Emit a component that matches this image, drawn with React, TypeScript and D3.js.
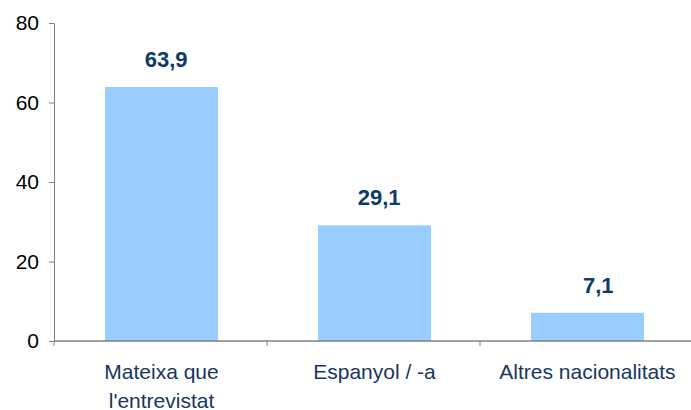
import { useEffect, useRef } from "react"
import * as d3 from "d3"

const categories = ["Mateixa que l'entrevistat", "Espanyol / -a", "Altres nacionalitats"]
const categoryLines = [["Mateixa que", "l'entrevistat"], ["Espanyol / -a"], ["Altres nacionalitats"]]
const values = [63.9, 29.1, 7.1]
const valueLabels = ["63,9", "29,1", "7,1"]
const yTicks = [0, 20, 40, 60, 80]

export default function App() {
  const svgRef = useRef<SVGSVGElement>(null)
  const width = 691
  const height = 410

  useEffect(() => {
    const svg = d3.select(svgRef.current)
    svg.selectAll("*").remove()

    const left = 54
    const right = 693
    const top = 23
    const bottom = 341
    const font = "'Liberation Sans', Arial, sans-serif"

    const x = d3.scaleBand<string>().domain(categories).range([left, right]).padding(0)
    const y = d3.scaleLinear().domain([0, 80]).range([bottom, top])
    const barW = x.bandwidth() * 0.53

    // bars
    svg.selectAll(".bar")
      .data(values)
      .enter()
      .append("rect")
      .attr("x", (_, i) => x(categories[i])! + (x.bandwidth() - barW) / 2 + 1)
      .attr("y", (d) => y(d))
      .attr("width", barW)
      .attr("height", (d) => bottom - y(d))
      .attr("fill", "#99ccff")

    // y axis
    const yAxis = svg.append("g")
      .attr("transform", `translate(${left},0)`)
      .call(d3.axisLeft(y).tickValues(yTicks).tickSize(5).tickSizeOuter(0).tickPadding(10))
    yAxis.select(".domain").attr("stroke", "#808080")
    yAxis.selectAll(".tick line").attr("stroke", "#808080")
    yAxis.selectAll(".tick text")
      .attr("fill", "#000")
      .style("font-family", font)
      .style("font-size", "21px")

    // x axis line + ticks at band boundaries
    svg.append("line")
      .attr("x1", left).attr("x2", right)
      .attr("y1", bottom).attr("y2", bottom)
      .attr("stroke", "#808080").attr("stroke-width", 1.5)
    const bounds = categories.map((c) => x(c)!).concat([right])
    svg.selectAll(".xtick")
      .data(bounds)
      .enter()
      .append("line")
      .attr("x1", (d) => d).attr("x2", (d) => d)
      .attr("y1", bottom).attr("y2", bottom + 5)
      .attr("stroke", "#808080")

    // x labels
    categoryLines.forEach((lines, i) => {
      const cx = x(categories[i])! + x.bandwidth() / 2 + 1
      const t = svg.append("text")
        .attr("x", cx)
        .attr("y", 379)
        .attr("text-anchor", "middle")
        .attr("fill", "#17375e")
        .style("font-family", font)
        .style("font-size", "21px")
      lines.forEach((l, j) => {
        t.append("tspan").attr("x", cx).attr("dy", j === 0 ? 0 : 29).text(l)
      })
    })

    // value labels (right-aligned a bit past bar centre, as in the source)
    svg.selectAll(".val")
      .data(values)
      .enter()
      .append("text")
      .attr("x", (_, i) => x(categories[i])! + x.bandwidth() / 2 + 27)
      .attr("y", (d) => y(d) - 20)
      .attr("text-anchor", "end")
      .attr("fill", "#0e3a6b")
      .style("font-family", font)
      .style("font-size", "22px")
      .style("font-weight", "bold")
      .text((_, i) => valueLabels[i])
  }, [])

  return (
    <svg
      ref={svgRef}
      width={width}
      height={height}
      style={{ position: "absolute", left: 0, top: 0, display: "block", background: "#fff" }}
    />
  )
}
